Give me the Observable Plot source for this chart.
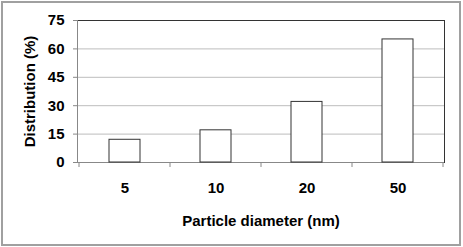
<!DOCTYPE html>
<html>
<head>
<meta charset="utf-8">
<script src="https://cdn.jsdelivr.net/npm/d3@7"></script>
<script src="https://cdn.jsdelivr.net/npm/@observablehq/plot@0.6"></script>
<style>
  html, body { margin: 0; padding: 0; background: #fff; }
  #chart { width: 463px; height: 247px; }
</style>
</head>
<body>
<div id="chart"></div>
<script>
const diameters = ["5", "10", "20", "50"];
const distribution = [12, 17, 32, 65];
const yTicks = [0, 15, 30, 45, 60, 75];
const gridValues = [15, 30, 45, 60];

const data = diameters.map((d, i) => ({d, v: distribution[i]}));

// tick marks at band boundaries, drawn from the x band scale
function bandBoundaryTicks(index, scales, values, dimensions) {
  const x = scales.x, y = scales.y;
  const step = x.step(), bw = x.bandwidth();
  const g = d3.create("svg:g").attr("stroke", "#888").attr("stroke-width", 1);
  const xs = diameters.map(d => x(d) + bw / 2 - step / 2);
  xs.push(x(diameters[diameters.length - 1]) + bw / 2 + step / 2);
  const y0 = y(0);
  for (const px of xs) {
    g.append("line").attr("x1", px).attr("x2", px).attr("y1", y0).attr("y2", y0 + 5);
  }
  return g.node();
}

const plot = Plot.plot({
  width: 463,
  height: 247,
  marginLeft: 77,
  marginRight: 19,
  marginTop: 20,
  marginBottom: 85,
  style: {fontFamily: "'Liberation Sans', Arial, sans-serif", fontSize: "15px", fontWeight: "bold", color: "#000", background: "#fff"},
  x: {domain: diameters, paddingInner: 0.66, paddingOuter: 0.33},
  y: {domain: [0, 75]},
  marks: [
    Plot.ruleY(gridValues, {stroke: "#bdbdbd", strokeWidth: 1}),
    Plot.ruleY([75], {stroke: "#333"}),
    Plot.frame({anchor: "right", stroke: "#333"}),
    Plot.frame({anchor: "left", stroke: "#888"}),
    Plot.ruleY([0], {stroke: "#888"}),
    Plot.barY(data, {x: "d", y: "v", fill: "white", stroke: "#333", strokeWidth: 1}),
    Plot.axisY({ticks: yTicks, tickSize: 4, tickPadding: 9, stroke: "#888", fill: "#000",
      label: "Distribution (%)", labelAnchor: "center", labelArrow: "none", labelOffset: 53,
      fontSize: 15, fontWeight: "bold"}),
    Plot.axisX({tickSize: 0, tickPadding: 20, fill: "#000",
      label: "Particle diameter (nm)", labelAnchor: "center", labelArrow: "none", labelOffset: 63,
      fontSize: 15, fontWeight: "bold"}),
    bandBoundaryTicks
  ]
});

d3.select(plot).append("rect")
  .attr("x", 2).attr("y", 2).attr("width", 458).attr("height", 243)
  .attr("fill", "none").attr("stroke", "#a0a0a0").attr("stroke-width", 2);

document.getElementById("chart").appendChild(plot);
</script>
</body>
</html>
